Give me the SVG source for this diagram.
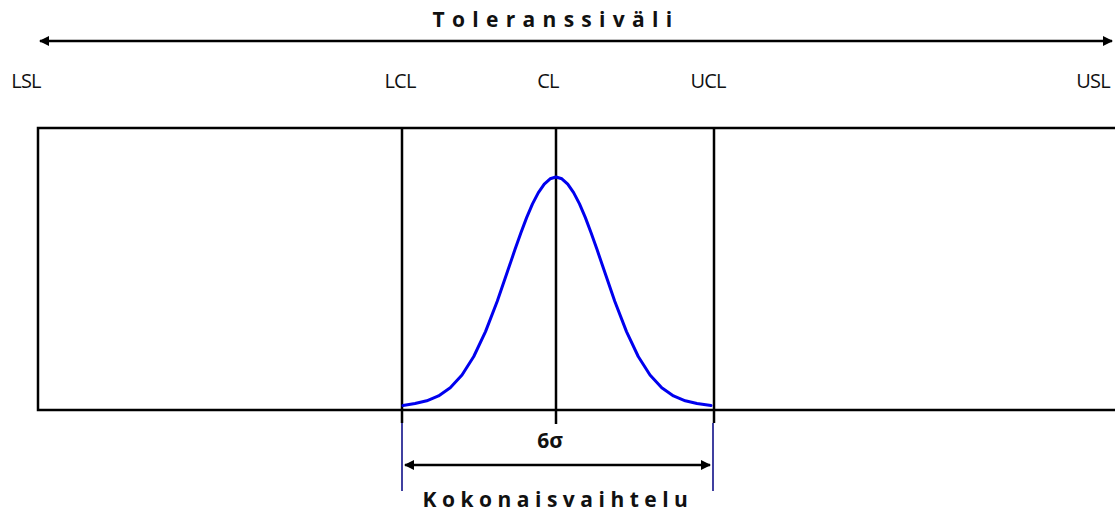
<svg xmlns="http://www.w3.org/2000/svg" width="1115" height="513" viewBox="0 0 1115 513">
<style>
.t{font-family:"Open Sans","Liberation Sans",sans-serif;fill:#111}
.lbl{font-size:20px;letter-spacing:-0.8px;text-anchor:middle}
.b{font-weight:bold;text-anchor:middle;font-size:21px}
.ln{stroke:#000;stroke-width:2.5;fill:none}
</style>
<defs>
<marker id="ah" viewBox="0 0 10 10" refX="9" refY="5" markerWidth="4" markerHeight="4" orient="auto-start-reverse" markerUnits="strokeWidth">
<path d="M0,0 L10,5 L0,10 z" fill="#000"/>
</marker>
</defs>
<rect width="1115" height="513" fill="#fff"/>
<g id="frame">
<path class="ln" d="M1116,128 H38 V410 H1116" stroke-width="3"/>
<line class="ln" x1="402" y1="128" x2="402" y2="423"/>
<line class="ln" x1="556" y1="128" x2="556" y2="424"/>
<line class="ln" x1="714" y1="128" x2="714" y2="423"/>
</g>
<g id="curve">
<polyline fill="none" stroke="#0000ee" stroke-width="3" stroke-linejoin="round" stroke-linecap="round" points="403,405.5 415,403.5 426.75,400.8 438.5,395.9 450.25,387.8 462,375 473.75,356.5 485.5,331.6 497.25,301.2 509,267.1 514.875,249.8 520.75,233.2 526.625,217.6 532.5,203.9 538.375,192.6 544.25,184.1 550.125,178.8 556,177 561.875,178.8 567.75,184.1 573.625,192.6 579.5,203.9 585.375,217.6 591.25,233.2 597.125,249.8 603,267.1 614.75,301.2 626.5,331.6 638.25,356.5 650,375 661.75,387.8 673.5,395.9 685.25,400.8 697,403.5 711,405.5"/>
</g>
<g id="connectors">
<line class="ln" x1="40" y1="41" x2="1112" y2="41" marker-start="url(#ah)" marker-end="url(#ah)"/>
<line x1="402" y1="423" x2="402" y2="491" stroke="#000080" stroke-width="1.5"/>
<line x1="713" y1="423" x2="713" y2="491" stroke="#000080" stroke-width="1.5"/>
<line class="ln" x1="405" y1="465" x2="710" y2="465" marker-start="url(#ah)" marker-end="url(#ah)"/>
</g>
<g id="labels">
<text class="t b" x="556" y="27" letter-spacing="7.3">Toleranssiväli</text>
<text class="t lbl" x="26" y="88">LSL</text>
<text class="t lbl" x="400" y="88">LCL</text>
<text class="t lbl" x="548" y="88">CL</text>
<text class="t lbl" x="708" y="88">UCL</text>
<text class="t lbl" x="1093" y="88">USL</text>
<text class="t b" x="550" y="448">6σ</text>
<text class="t b" x="558" y="507" letter-spacing="5.5">Kokonaisvaihtelu</text>
</g>
</svg>
